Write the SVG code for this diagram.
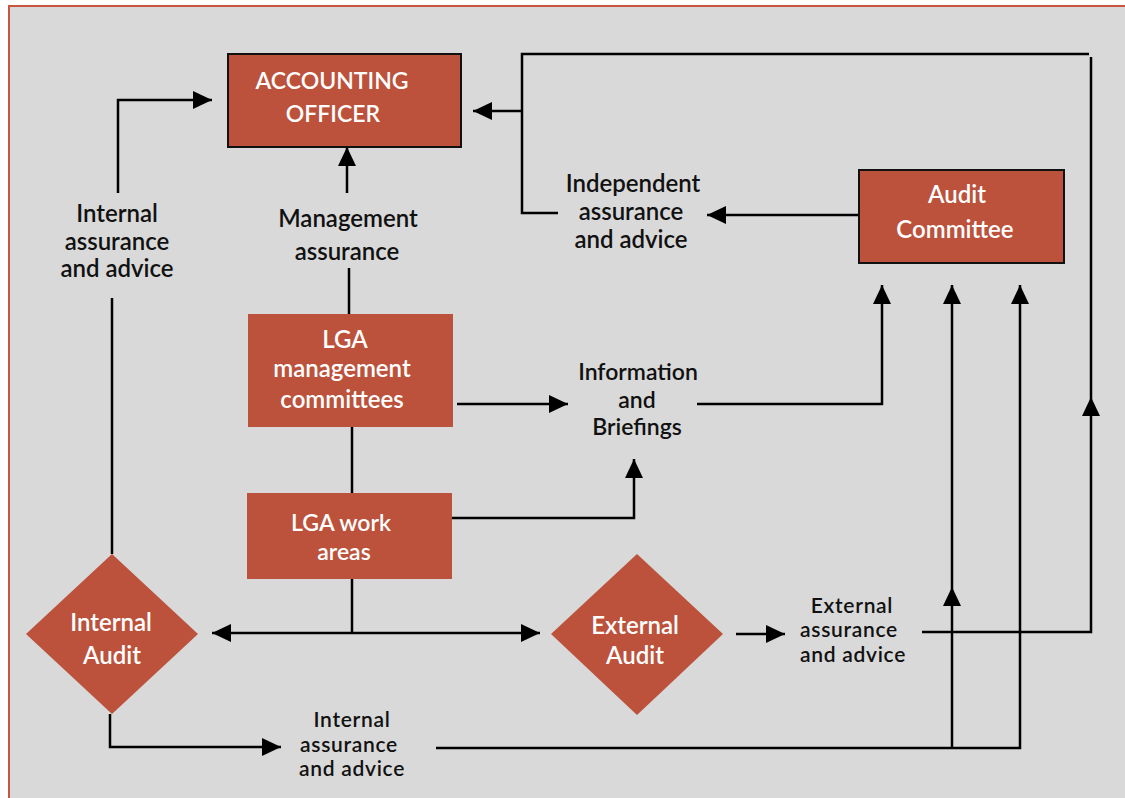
<svg xmlns="http://www.w3.org/2000/svg" width="1125" height="798" viewBox="0 0 1125 798">
<style>
.box{fill:#bc523c;}
.boxs{fill:#bc523c;stroke:#111;stroke-width:2;}
.bt{font-family:Lato,"Open Sans","Noto Sans",sans-serif;font-weight:600;font-size:24px;fill:#fff;text-anchor:middle;}
.lt{font-family:Lato,"Open Sans","Noto Sans",sans-serif;font-weight:600;font-size:24px;fill:#111;text-anchor:middle;}
.lt2{font-family:Lato,"Open Sans","Noto Sans",sans-serif;font-weight:600;font-size:21px;letter-spacing:0.7px;fill:#111;text-anchor:middle;}
.c{fill:none;stroke:#000;stroke-width:2.5;}
.a{marker-end:url(#ah);}
</style>
<defs>
<marker id="ah" viewBox="0 0 19 18" markerWidth="19" markerHeight="18" refX="19" refY="9" orient="auto-start-reverse" markerUnits="userSpaceOnUse">
<path d="M0,0 L19,9 L0,18 z" fill="#000"/>
</marker>
</defs>
<rect x="0" y="0" width="1125" height="798" fill="#fff"/>
<rect x="9" y="6" width="1130" height="800" fill="#d9d9d9" stroke="#c8553f" stroke-width="2"/>

<g id="connectors">
<path class="c a" d="M118,193 V100 H212"/>
<path class="c a" d="M347,193 V147"/>
<path class="c" d="M349,314 V268"/>
<path class="c" d="M112,554 V298"/>
<path class="c a" d="M522,111 H473"/>
<path class="c" d="M1089,54 H522 V213 H558"/>
<path class="c a" d="M922,632 H1091 V397"/>
<path class="c" d="M1091,397 V57"/>
<path class="c a" d="M860,215 H707"/>
<path class="c a" d="M457,404 H568"/>
<path class="c a" d="M697,404 H882 V285"/>
<path class="c a" d="M449,518 H634 V459"/>
<path class="c" d="M352,427 V494"/>
<path class="c" d="M352,579 V633"/>
<path class="c a" d="M212,633 H540" marker-start="url(#ah)"/>
<path class="c a" d="M736,634 H785"/>
<path class="c a" d="M110,714 V747 H281"/>
<path class="c a" d="M436,748 H1020 V285"/>
<path class="c a" d="M952,748 V587"/>
<path class="c a" d="M952,587 V285"/>
</g>

<g id="accounting-officer">
<rect class="boxs" x="228" y="54" width="233" height="93"/>
<text class="bt" x="332" y="89" style="font-size:23px">ACCOUNTING</text>
<text class="bt" x="333" y="122" style="font-size:23px">OFFICER</text>
</g>

<g id="audit-committee">
<rect class="boxs" x="859" y="170" width="205" height="93"/>
<text class="bt" x="957" y="203">Audit</text>
<text class="bt" x="955" y="238">Committee</text>
</g>

<g id="lga-management-committees">
<rect class="box" x="248" y="314" width="205" height="113"/>
<text class="bt" x="345" y="348">LGA</text>
<text class="bt" x="342" y="377">management</text>
<text class="bt" x="342" y="408">committees</text>
</g>

<g id="lga-work-areas">
<rect class="box" x="247" y="493" width="205" height="86"/>
<text class="bt" x="341" y="531" style="font-size:23px">LGA work</text>
<text class="bt" x="344" y="560" style="font-size:23px">areas</text>
</g>

<g id="internal-audit">
<polygon class="box" points="112,554 198,634 112,714 26,634"/>
<text class="bt" x="111" y="631">Internal</text>
<text class="bt" x="112" y="664">Audit</text>
</g>

<g id="external-audit">
<polygon class="box" points="637,554 723,634 637,715 551,634"/>
<text class="bt" x="635" y="634">External</text>
<text class="bt" x="635" y="664">Audit</text>
</g>

<g id="label-internal-assurance-top">
<text class="lt" x="117" y="222">Internal</text>
<text class="lt" x="117" y="250">assurance</text>
<text class="lt" x="117" y="277">and advice</text>
</g>

<g id="label-management-assurance">
<text class="lt" x="348" y="227">Management</text>
<text class="lt" x="347" y="260">assurance</text>
</g>

<g id="label-independent">
<text class="lt" x="633" y="192">Independent</text>
<text class="lt" x="631" y="220">assurance</text>
<text class="lt" x="631" y="248">and advice</text>
</g>

<g id="label-information">
<text class="lt" x="638" y="380" style="font-size:23px">Information</text>
<text class="lt" x="637" y="408" style="font-size:23px">and</text>
<text class="lt" x="637" y="435" style="font-size:23px">Briefings</text>
</g>

<g id="label-external-assurance">
<text class="lt2" x="852" y="613">External</text>
<text class="lt2" x="849" y="637">assurance</text>
<text class="lt2" x="853" y="662">and advice</text>
</g>

<g id="label-internal-assurance-bottom">
<text class="lt2" x="352" y="727">Internal</text>
<text class="lt2" x="349" y="752">assurance</text>
<text class="lt2" x="352" y="776">and advice</text>
</g>
</svg>
